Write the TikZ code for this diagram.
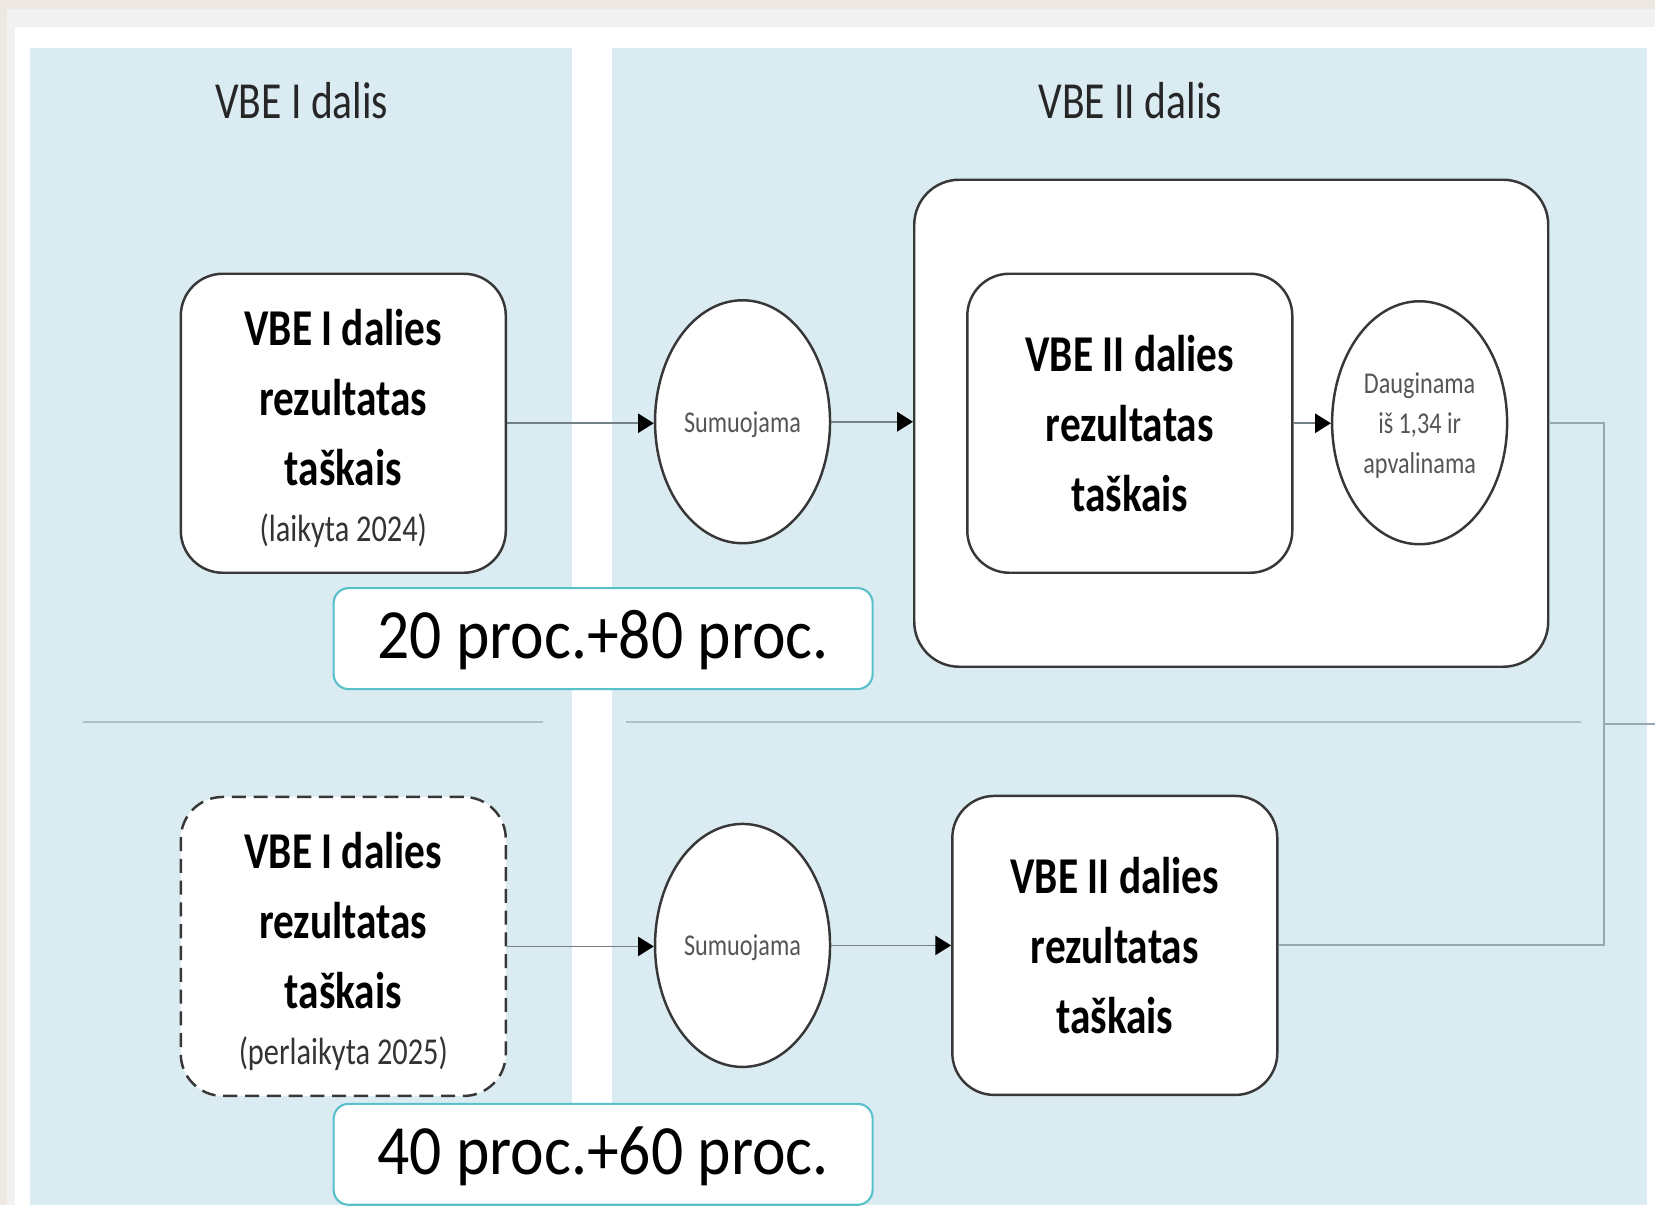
\documentclass[tikz,border=0pt]{standalone}
\usepackage{fontspec}
\newfontfamily\diagfont[FakeStretch=0.8]{Carlito}
\newfontfamily\procfont[FakeStretch=0.9]{Carlito}
\usetikzlibrary{arrows.meta,positioning,shapes.geometric}

\definecolor{panelblue}{RGB}{218,236,242}
\definecolor{framebeige}{RGB}{237,232,225}
\definecolor{framegray}{RGB}{241,241,241}
\definecolor{boxline}{RGB}{55,55,55}
\definecolor{flowline}{RGB}{115,128,133}
\definecolor{joinline}{RGB}{150,168,176}
\definecolor{sepline}{RGB}{172,192,200}
\definecolor{procteal}{RGB}{88,192,201}
\definecolor{softtext}{RGB}{85,85,85}

\tikzset{
  resbox/.style={draw=boxline, line width=0.7pt, fill=white, rounded corners=0.42cm,
    minimum width=3.25cm, minimum height=2.99cm, align=center, inner sep=0pt,
    font=\diagfont\bfseries\fontsize{14.7}{19.9}\selectfont},
  outerbox/.style={draw=boxline, line width=0.7pt, fill=white, rounded corners=0.45cm,
    minimum width=6.34cm, minimum height=4.87cm, inner sep=0pt},
  opnode/.style={draw=boxline, line width=0.7pt, fill=white, ellipse, inner sep=0pt,
    minimum width=1.75cm, minimum height=2.43cm, align=center, text=softtext,
    text depth=0pt, font=\diagfont\fontsize{8.6}{11.4}\selectfont},
  proclabel/.style={draw=procteal, line width=0.6pt, fill=white, rounded corners=0.15cm,
    minimum width=5.39cm, minimum height=1.01cm, inner sep=0pt,
    text height=13.3pt, text depth=2pt, font=\procfont\fontsize{20.1}{24}\selectfont},
  flow/.style={draw=flowline, line width=0.5pt, -{Triangle[color=black,length=4.5pt,width=5.5pt]}},
  mergeline/.style={draw=joinline, line width=0.6pt},
  partsep/.style={draw=sepline, line width=0.6pt},
  parttitle/.style={font=\diagfont\fontsize{14.8}{18}\selectfont, text=black!85}
}
\newcommand{\yearnote}[1]{{\mdseries\color{black!80}\fontsize{10.8}{13}\selectfont #1}}

\begin{document}
\begin{tikzpicture}[x=0.01cm,y=-0.01cm]
% Frame and background
\fill[framebeige] (0,0) rectangle (1656,1206);
\fill[framegray] (7,9) rectangle (1656,1206);
\fill[white] (15,27) rectangle (1656,1206);

% Panels for both parts
\fill[panelblue] (30,48) rectangle (572,1206);
\fill[panelblue] (612,48) rectangle (1648,1206);
\node[parttitle] (titleI) at (302,101) {VBE I dalis};
\node[parttitle] (titleII) at (1131,101) {VBE II dalis};

% Separator lines
\draw[partsep] (83,722) -- (543,722);
\draw[partsep] (626,722) -- (1582,722);

% Upper row (laikyta 2024)
\node[resbox] (resIa) at (343.5,423.5) {\rule{0pt}{13.2pt}VBE I dalies\\rezultatas\\taškais\\[-3.8pt]\yearnote{(laikyta 2024)}};
\node[opnode] (sumIa) at (743,422) {Sumuojama};
\node[outerbox] (rescale) at (1232,423.5) {};
\node[resbox] (resIIa) at (1130.5,423.5) {VBE II dalies\\rezultatas\\taškais};
\node[opnode] (mult) at (1420.5,423) {Dauginama\\iš 1,34 ir\\apvalinama};
\node[proclabel] (procA) at (603.5,639) {20 proc.+80 proc.};

% Lower row (perlaikyta 2025)
\node[resbox, dash pattern=on 4pt off 2.2pt] (resIb) at (343.5,947) {\rule{0pt}{13.2pt}VBE I dalies\\rezultatas\\taškais\\[-3.8pt]\yearnote{(perlaikyta 2025)}};
\node[opnode] (sumIb) at (743,946) {Sumuojama};
\node[resbox] (resIIb) at (1115.5,946) {VBE II dalies\\rezultatas\\taškais};
\node[proclabel] (procB) at (603.5,1155) {40 proc.+60 proc.};

% Arrows
\foreach \from/\to in {resIa/sumIa, sumIa/rescale, resIIa/mult, resIb/sumIb, sumIb/resIIb}
  \draw[flow] (\from.east) -- (\from.east -| \to.west);

% Joining lines on the right
\coordinate (joint) at (1605,724);
\coordinate (exitpt) at (1656,724);
\draw[mergeline] (rescale.east) -| (joint) |- (resIIb.east);
\draw[mergeline] (joint) -- (exitpt);

\end{tikzpicture}
\end{document}
